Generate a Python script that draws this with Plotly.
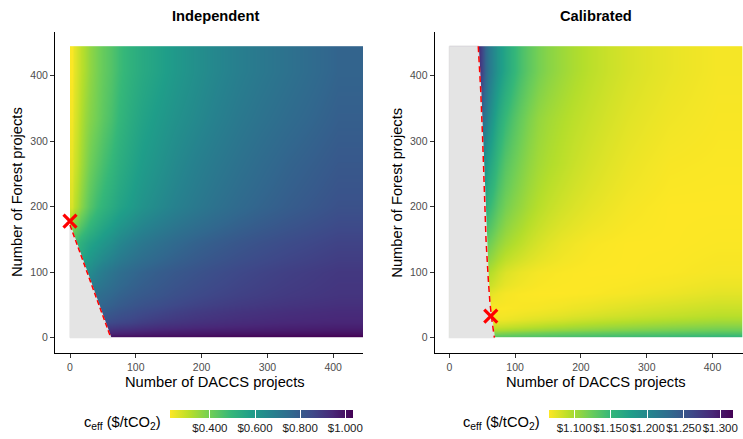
import plotly.graph_objects as go

W, H = 743, 439

# ---- Independent scenario: effective cost (USD / tCO2) on a grid of bins ----
IND_X_EDGES = [0, 6, 16, 30, 50, 75, 110, 160, 220, 290, 370, 445]
IND_Y_EDGES = [0, 6, 16, 30, 50, 80, 120, 170, 230, 300, 370, 445]
IND_COST = [  # rows from bottom (few forest projects) to top
    [0.98, 0.98, 0.985, 0.99, 0.995, 1.0, 1.005, 1.01, 1.02, 1.025, 1.03],
    [0.90, 0.90, 0.90, 0.91, 0.93, 0.94, 0.955, 0.965, 0.97, 0.975, 0.98],
    [0.80, 0.80, 0.82, 0.84, 0.855, 0.872, 0.90, 0.92, 0.935, 0.945, 0.95],
    [0.70, 0.72, 0.75, 0.78, 0.81, 0.835, 0.862, 0.89, 0.91, 0.925, 0.935],
    [0.60, 0.65, 0.70, 0.74, 0.765, 0.795, 0.82, 0.85, 0.875, 0.895, 0.91],
    [0.50, 0.56, 0.62, 0.675, 0.72, 0.76, 0.795, 0.825, 0.855, 0.88, 0.90],
    [0.45, 0.50, 0.545, 0.585, 0.63, 0.685, 0.735, 0.78, 0.815, 0.845, 0.87],
    [0.27, 0.33, 0.405, 0.48, 0.535, 0.59, 0.65, 0.705, 0.755, 0.795, 0.83],
    [0.25, 0.30, 0.37, 0.435, 0.495, 0.56, 0.62, 0.68, 0.73, 0.775, 0.81],
    [0.235, 0.285, 0.35, 0.40, 0.46, 0.535, 0.595, 0.65, 0.705, 0.75, 0.79],
    [0.225, 0.275, 0.33, 0.39, 0.445, 0.515, 0.57, 0.63, 0.685, 0.73, 0.775],
]
IND_LIMITS = [0.223, 1.034]
IND_TICKS = [0.4, 0.6, 0.8, 1.0]
# infeasible region boundary and the chosen optimum
IND_BOUND_X = [0, 62]
IND_BOUND_Y = [172, 0]
IND_OPT = (0, 178)

# ---- Calibrated scenario ----
CAL_X_EDGES = [0, 40, 50, 60, 75, 95, 120, 150, 190, 240, 300, 370, 445]
CAL_Y_EDGES = [0, 5, 12, 22, 35, 55, 80, 120, 170, 230, 300, 370, 445]
CAL_COST = [
    [1.128, 1.128, 1.128, 1.128, 1.13, 1.132, 1.134, 1.137, 1.14, 1.143, 1.146, 1.149],
    [1.108, 1.108, 1.108, 1.108, 1.111, 1.114, 1.117, 1.12, 1.123, 1.126, 1.129, 1.132],
    [1.085, 1.085, 1.085, 1.085, 1.087, 1.09, 1.093, 1.097, 1.101, 1.105, 1.109, 1.113],
    [1.07, 1.07, 1.07, 1.07, 1.071, 1.074, 1.077, 1.08, 1.085, 1.089, 1.093, 1.097],
    [1.07, 1.068, 1.067, 1.066, 1.066, 1.067, 1.068, 1.07, 1.073, 1.077, 1.081, 1.085],
    [1.09, 1.085, 1.08, 1.073, 1.068, 1.066, 1.065, 1.065, 1.066, 1.068, 1.071, 1.075],
    [1.12, 1.11, 1.10, 1.09, 1.078, 1.072, 1.068, 1.066, 1.065, 1.065, 1.066, 1.068],
    [1.15, 1.14, 1.13, 1.115, 1.10, 1.09, 1.08, 1.072, 1.067, 1.065, 1.065, 1.066],
    [1.18, 1.17, 1.16, 1.14, 1.118, 1.105, 1.092, 1.082, 1.074, 1.068, 1.065, 1.065],
    [1.21, 1.20, 1.185, 1.16, 1.132, 1.115, 1.10, 1.09, 1.08, 1.072, 1.067, 1.066],
    [1.26, 1.245, 1.215, 1.18, 1.148, 1.125, 1.106, 1.095, 1.085, 1.076, 1.07, 1.067],
    [1.30, 1.285, 1.235, 1.20, 1.168, 1.14, 1.118, 1.103, 1.09, 1.08, 1.073, 1.068],
]
CAL_LIMITS = [1.065, 1.317]
CAL_TICKS = [1.10, 1.15, 1.20, 1.25, 1.30]
CAL_BOUND_X = [44, 47.7, 50.7, 53.2, 55.8, 59.3, 61.8, 65.4, 68.5]
CAL_BOUND_Y = [445, 378, 302, 225, 149, 88, 52.5, 22, 0]
CAL_OPT = (63, 33)

AXIS_TICKS = [0, 100, 200, 300, 400]
GRID_MAX = 445
NA_GREY = "#e4e4e4"
FONT = "Liberation Sans, Arial, sans-serif"


def px(x):
    return x / W


def py(y):
    return 1 - y / H


def colorbar(left, right, ticks):
    return dict(
        orientation="h", x=px(left), xanchor="left", y=py(410), yanchor="top",
        len=(right - left) / W, lenmode="fraction", thickness=8,
        thicknessmode="pixels", outlinewidth=0, xpad=0, ypad=0,
        ticks="inside", ticklen=8, tickwidth=1, tickcolor="white",
        tickvals=ticks, ticktext=[f"${t:.3f}" for t in ticks], tickangle=0,
        tickfont=dict(family=FONT, size=11.5, color="#1a1a1a"),
    )


fig = go.Figure()

panels = [
    ("x", "y", IND_X_EDGES, IND_Y_EDGES, IND_COST, IND_LIMITS, IND_TICKS,
     (170, 352.7), IND_BOUND_X, IND_BOUND_Y, IND_OPT, "5px,3px"),
    ("x2", "y2", CAL_X_EDGES, CAL_Y_EDGES, CAL_COST, CAL_LIMITS, CAL_TICKS,
     (548.7, 732.7), CAL_BOUND_X, CAL_BOUND_Y, CAL_OPT, "6px,4px"),
]

for i, (xa, ya, xe, ye, z, lim, tks, cb, bx, by, opt, dash) in enumerate(panels):
    fig.add_trace(go.Heatmap(
        x=xe, y=ye, z=z, zsmooth="best", colorscale="Viridis",
        reversescale=True, zmin=lim[0], zmax=lim[1],
        colorbar=colorbar(cb[0], cb[1], tks), xaxis=xa, yaxis=ya,
        hoverinfo="skip",
    ))
    # infeasible region
    if i == 0:
        gx = [0] + bx + [0]
        gy = [0] + by + [0]
    else:
        gx = [0] + bx + [0, 0]
        gy = [GRID_MAX] + by + [0, GRID_MAX]
    fig.add_trace(go.Scatter(
        x=gx, y=gy, fill="toself", fillcolor=NA_GREY, mode="lines",
        line=dict(width=1.2, color=NA_GREY), xaxis=xa, yaxis=ya,
        hoverinfo="skip", showlegend=False,
    ))
    fig.add_trace(go.Scatter(
        x=bx, y=by, mode="lines", line=dict(color="red", width=1.5, dash=dash),
        xaxis=xa, yaxis=ya, hoverinfo="skip", showlegend=False,
    ))
    fig.add_trace(go.Scatter(
        x=[opt[0]], y=[opt[1]], mode="markers",
        marker=dict(symbol="x-thin", size=13, color="red",
                    line=dict(width=3.2, color="red")),
        xaxis=xa, yaxis=ya, cliponaxis=False, hoverinfo="skip",
        showlegend=False,
    ))

axis_common = dict(
    showline=True, linecolor="black", linewidth=1.1, ticks="outside",
    ticklen=4, tickwidth=1, tickcolor="#333333", showgrid=False,
    zeroline=False, tickvals=AXIS_TICKS,
    tickfont=dict(family=FONT, size=10.5, color="#4d4d4d"),
)

fig.update_layout(
    width=W, height=H, margin=dict(l=0, r=0, t=0, b=0, autoexpand=False),
    paper_bgcolor="white", plot_bgcolor="white", showlegend=False,
    font=dict(family=FONT, color="black"),
    xaxis=dict(domain=[px(55), px(363)], range=[-22.8, 445.3], anchor="y",
               **axis_common),
    yaxis=dict(domain=[py(353), py(32)], range=[-23.4, 466.7], anchor="x",
               **axis_common),
    xaxis2=dict(domain=[px(434.7), 1.0], range=[-22.2, 446.3], anchor="y2",
                **axis_common),
    yaxis2=dict(domain=[py(353), py(32)], range=[-23.4, 466.7], anchor="x2",
                **axis_common),
)

texts = [
    ("<b>Independent</b>", 215.5, 16, 14.7, 0),
    ("<b>Calibrated</b>", 595.5, 16, 14.7, 0),
    ("Number of DACCS projects", 215.5, 381.5, 14.7, 0),
    ("Number of DACCS projects", 595.5, 381.5, 14.7, 0),
    ("Number of Forest projects", 17.5, 192.5, 14.7, -90),
    ("Number of Forest projects", 397.2, 192.5, 14.7, -90),
]
for t, x, y, s, ang in texts:
    fig.add_annotation(text=t, x=px(x), y=py(y), xref="paper", yref="paper",
                       showarrow=False, textangle=ang, xanchor="center",
                       yanchor="middle", font=dict(family=FONT, size=s,
                                                   color="black"))

for xr in (163, 542):
    fig.add_annotation(text="c<sub>eff</sub> ($/tCO<sub>2</sub>)",
                       x=px(xr), y=py(423), xref="paper", yref="paper",
                       showarrow=False, xanchor="right", yanchor="middle",
                       font=dict(family=FONT, size=14.7, color="black"))

fig.write_html("out.html")
